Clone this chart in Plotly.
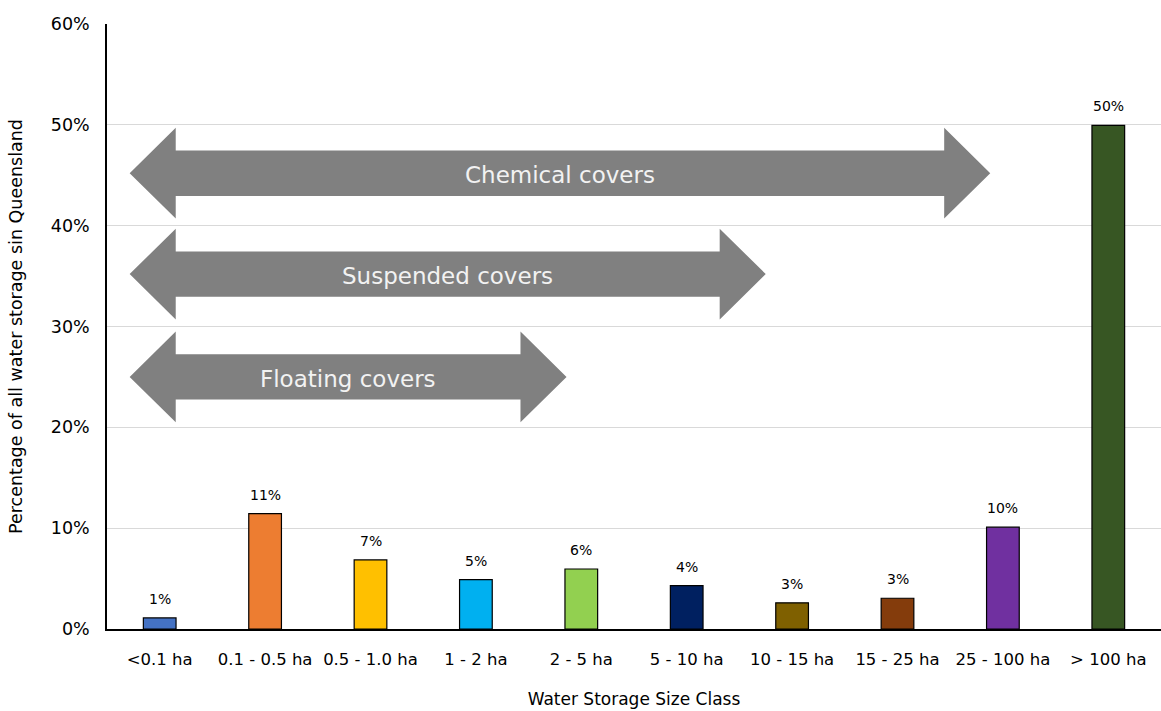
import plotly.graph_objects as go

# Share of all water storage by size class (%)
size_classes = ["<0.1 ha", "0.1 - 0.5 ha", "0.5 - 1.0 ha", "1 - 2 ha", "2 - 5 ha",
                "5 - 10 ha", "10 - 15 ha", "15 - 25 ha", "25 - 100 ha", "> 100 ha"]
share_pct = [1.1, 11.45, 6.85, 4.9, 5.95, 4.3, 2.6, 3.05, 10.1, 49.95]
bar_colors = ["#4472C4", "#ED7D31", "#FFC000", "#00B0F0", "#92D050",
              "#002060", "#7F6000", "#843C0C", "#7030A0", "#375623"]

# Cover types and the span of size classes each applies to
cover_names = ["Chemical covers", "Suspended covers", "Floating covers"]
cover_end = [7.88, 5.75, 3.86]       # arrow tip on the category axis
cover_level = [45.2, 35.2, 25.0]     # arrow centre line (%)

fig = go.Figure()
fig.add_trace(go.Bar(
    x=size_classes, y=share_pct,
    marker=dict(color=bar_colors, line=dict(color="#000000", width=1.2)),
    width=0.31,
    showlegend=False,
))

# Value labels above each bar
for cat, v in zip(size_classes, share_pct):
    fig.add_annotation(x=cat, y=v, xref="x", yref="y", text=f"{v:.0f}%",
                       showarrow=False, yanchor="bottom", yshift=9,
                       font=dict(family="DejaVu Sans", size=14, color="#000000"))

# Double-headed arrows drawn in data coordinates
start = -0.285
head_len = 0.437
head_half = 4.5
shaft_half = 2.25
for name, end, yc in zip(cover_names, cover_end, cover_level):
    pts = [
        (start, yc),
        (start + head_len, yc + head_half),
        (start + head_len, yc + shaft_half),
        (end - head_len, yc + shaft_half),
        (end - head_len, yc + head_half),
        (end, yc),
        (end - head_len, yc - head_half),
        (end - head_len, yc - shaft_half),
        (start + head_len, yc - shaft_half),
        (start + head_len, yc - head_half),
    ]
    path = "M " + " L ".join(f"{x},{y}" for x, y in pts) + " Z"
    fig.add_shape(type="path", path=path, xref="x", yref="y",
                  fillcolor="#808080", line=dict(width=0), layer="above")
    fig.add_annotation(x=(start + end) / 2, y=yc, xref="x", yref="y",
                       text=name, showarrow=False, yshift=-2,
                       font=dict(family="DejaVu Sans", size=23, color="#F2F2F2"))

fig.update_layout(
    width=1161, height=711,
    margin=dict(l=107, r=0, t=24, b=82),
    paper_bgcolor="white", plot_bgcolor="white",
    font=dict(family="DejaVu Sans", color="#000000"),
)
fig.update_xaxes(
    range=[-0.5, 9.5],
    showline=True, linecolor="#000000", linewidth=1.5,
    ticks="", ticklabelstandoff=14,
    tickfont=dict(size=16.5, family="DejaVu Sans"),
    title=dict(text="Water Storage Size Class", font=dict(size=17, family="DejaVu Sans"),
               standoff=26),
    showgrid=False,
)
fig.update_yaxes(
    range=[0, 60], dtick=10, ticksuffix="%",
    showline=True, linecolor="#000000", linewidth=1.5,
    gridcolor="#D9D9D9", gridwidth=1.3,
    zeroline=False, ticklabelstandoff=12,
    tickfont=dict(size=17.5, family="DejaVu Sans"),
    title=dict(text="Percentage of all water storage sin Queensland",
               font=dict(size=17.5, family="DejaVu Sans"), standoff=24),
)

fig.write_html("out.html")
